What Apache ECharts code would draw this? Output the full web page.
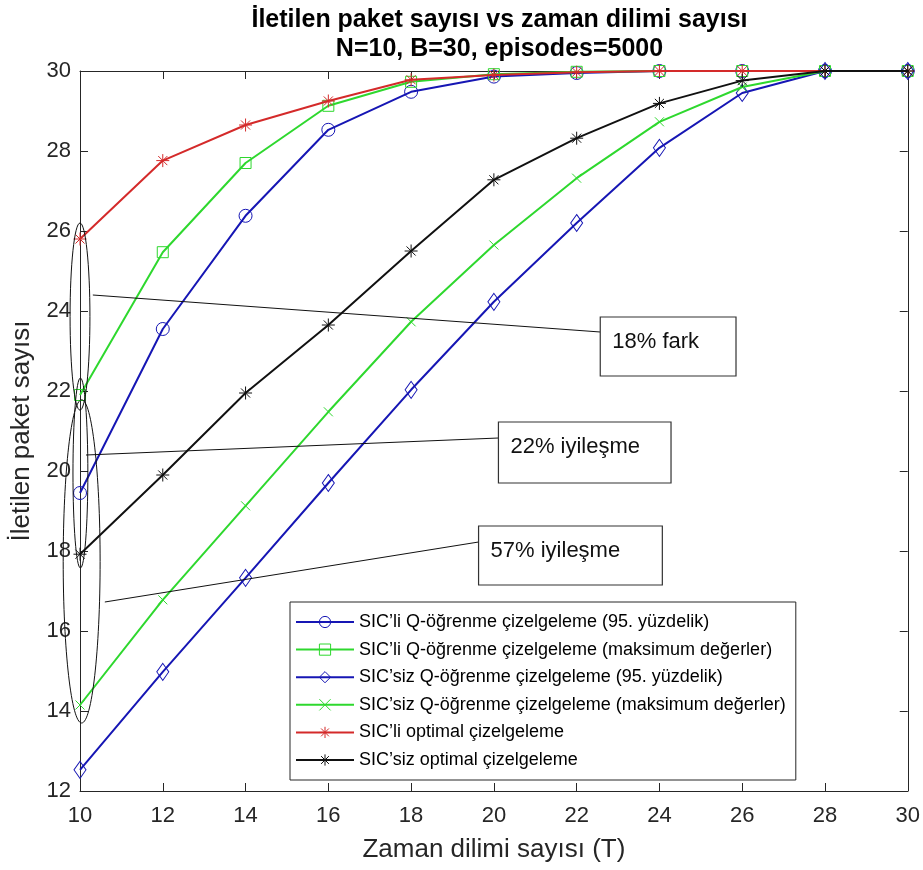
<!DOCTYPE html>
<html>
<head>
<meta charset="utf-8">
<script src="https://cdn.jsdelivr.net/npm/echarts@6/dist/echarts.min.js"></script>
<style>
html,body{margin:0;padding:0;background:#fff;}
#chart{width:923px;height:870px;}
</style>
</head>
<body>
<div id="chart"></div>
<script>
// ---- data ----
const T = [10, 12, 14, 16, 18, 20, 22, 24, 26, 28, 30];
const seriesNames = [
  "SIC’li Q-öğrenme çizelgeleme (95. yüzdelik)",
  "SIC’li Q-öğrenme çizelgeleme (maksimum değerler)",
  "SIC’siz Q-öğrenme çizelgeleme (95. yüzdelik)",
  "SIC’siz Q-öğrenme çizelgeleme (maksimum değerler)",
  "SIC’li optimal çizelgeleme",
  "SIC’siz optimal çizelgeleme"
];
const sicQ95      = [19.45, 23.55, 26.38, 28.53, 29.48, 29.86, 29.95, 30, 30, 30, 30];
const sicQmax     = [21.9, 25.47, 27.70, 29.13, 29.73, 29.92, 29.98, 30, 30, 30, 30];
const sicsizQ95   = [12.53, 14.98, 17.33, 19.70, 22.03, 24.23, 26.20, 28.08, 29.45, 30, 30];
const sicsizQmax  = [14.15, 16.78, 19.13, 21.48, 23.73, 25.65, 27.32, 28.73, 29.60, 30, 30];
const sicOpt      = [25.80, 27.76, 28.65, 29.25, 29.78, 29.90, 29.97, 30, 30, 30, 30];
const sicsizOpt   = [17.92, 19.90, 21.95, 23.65, 25.50, 27.28, 28.32, 29.19, 29.76, 30, 30];
const allValues = [sicQ95, sicQmax, sicsizQ95, sicsizQmax, sicOpt, sicsizOpt];
const yTicks = [12, 14, 16, 18, 20, 22, 24, 26, 28, 30];
const annoTexts = ["18% fark", "22% iyileşme", "57% iyileşme"];

// ---- styles ----
const FONT = "'Liberation Sans', Arial, Helvetica, sans-serif";
const AX = '#262626';
const BLUE = '#1616b4', GREEN = '#2ed82e', RED = '#d42a2a', BLACK = '#111111';
const XMARK = 'path://M0,0L10,10M10,0L0,10';
const STAR = 'path://M5,0L5,10M0,5L10,5M1.5,1.5L8.5,8.5M8.5,1.5L1.5,8.5';
const styles = [
  {color: BLUE,  symbol: 'circle',  size: 13},
  {color: GREEN, symbol: 'rect',    size: 11},
  {color: BLUE,  symbol: 'diamond', size: [12, 17]},
  {color: GREEN, symbol: XMARK,     size: 9},
  {color: RED,   symbol: STAR,      size: 13},
  {color: BLACK, symbol: STAR,      size: 13}
];

const chart = echarts.init(document.getElementById('chart'), null, {renderer: 'canvas'});

const series = seriesNames.map((name, k) => ({
  name: name,
  type: 'line',
  data: T.map((t, i) => [t, allValues[k][i]]),
  symbol: styles[k].symbol,
  symbolSize: styles[k].size,
  showAllSymbol: true,
  lineStyle: {color: styles[k].color, width: 2},
  itemStyle: {color: 'rgba(0,0,0,0)', borderColor: styles[k].color, borderWidth: 1},
  emphasis: {disabled: true},
  z: 2 + k
}));

const axisCommon = {
  type: 'value',
  axisLine: {show: true, onZero: false, lineStyle: {color: AX, width: 1}},
  axisTick: {show: true, inside: true, length: 8, lineStyle: {color: AX}},
  splitLine: {show: false}
};

chart.setOption({
  animation: false,
  backgroundColor: '#fff',
  title: {
    text: 'İletilen paket sayısı vs zaman dilimi sayısı\nN=10, B=30, episodes=5000',
    left: 494.5, top: 1, textAlign: 'center',
    textStyle: {fontFamily: FONT, fontSize: 25, fontWeight: 'bold', color: '#000', lineHeight: 29}
  },
  grid: {left: 80, right: 14, top: 71, bottom: 79, containLabel: false},
  xAxis: [
    Object.assign({}, axisCommon, {
      min: 10, max: 30, interval: 2, position: 'bottom',
      name: 'Zaman dilimi sayısı (T)', nameLocation: 'middle', nameGap: 46,
      nameTextStyle: {fontFamily: FONT, fontSize: 26, color: AX},
      axisLabel: {fontFamily: FONT, fontSize: 22, color: AX, margin: 14}
    }),
    Object.assign({}, axisCommon, {
      min: 10, max: 30, interval: 2, position: 'top', axisLabel: {show: false}
    })
  ],
  yAxis: [
    Object.assign({}, axisCommon, {
      min: yTicks[0], max: yTicks[yTicks.length - 1], interval: 2, position: 'left',
      name: 'İletilen paket sayısı', nameLocation: 'middle', nameGap: 45,
      nameTextStyle: {fontFamily: FONT, fontSize: 26, color: AX},
      axisLabel: {fontFamily: FONT, fontSize: 22, color: AX, margin: 9}
    }),
    Object.assign({}, axisCommon, {
      min: yTicks[0], max: yTicks[yTicks.length - 1], interval: 2, position: 'right',
      axisLabel: {show: false}
    })
  ],
  legend: {
    orient: 'vertical',
    left: 290, top: 602,
    padding: [11, 10, 11, 5],
    itemGap: 9.6,
    itemWidth: 58, itemHeight: 14,
    backgroundColor: '#fff',
    borderColor: AX, borderWidth: 1, borderRadius: 0,
    itemStyle: {color: 'rgba(0,0,0,0)', borderWidth: 1},
    textStyle: {fontFamily: FONT, fontSize: 18, color: '#000'},
    selectedMode: false,
    data: seriesNames
  },
  series: series
});

// ---- annotations (positions given in data units, converted through the grid) ----
const ellipses = [
  {cx: 10.0,  cy: 23.86, rx: 0.24,  ry: 2.34},
  {cx: 10.01, cy: 19.95, rx: 0.18,  ry: 2.375},
  {cx: 10.04, cy: 17.74, rx: 0.446, ry: 4.04}
];
const boxes = [
  {x0: 22.57, y0: 23.85, x1: 25.85, y1: 22.375, from: [10.31, 24.40],  to: [22.57, 23.475]},
  {x0: 20.11, y0: 21.225, x1: 24.28, y1: 19.70, from: [10.145, 20.40], to: [20.11, 20.825]},
  {x0: 19.63, y0: 18.625, x1: 24.07, y1: 17.15, from: [10.60, 16.725], to: [19.63, 18.225]}
];
const px = (p) => chart.convertToPixel({gridIndex: 0}, p);
const graphics = [];
ellipses.forEach(e => {
  const c = px([e.cx, e.cy]);
  const r = px([e.cx + e.rx, e.cy + e.ry]);
  graphics.push({
    type: 'ellipse', silent: true, z: 20,
    shape: {cx: c[0], cy: c[1], rx: Math.abs(r[0] - c[0]), ry: Math.abs(r[1] - c[1])},
    style: {fill: 'none', stroke: '#111', lineWidth: 1}
  });
});
boxes.forEach((b, i) => {
  const a = px(b.from), d = px(b.to);
  graphics.push({
    type: 'line', silent: true, z: 20,
    shape: {x1: a[0], y1: a[1], x2: d[0], y2: d[1]},
    style: {stroke: '#111', lineWidth: 1}
  });
  const p0 = px([b.x0, b.y0]), p1 = px([b.x1, b.y1]);
  graphics.push({
    type: 'rect', silent: true, z: 21,
    shape: {x: p0[0], y: p0[1], width: p1[0] - p0[0], height: p1[1] - p0[1]},
    style: {fill: '#fff', stroke: '#333', lineWidth: 1.2}
  });
  graphics.push({
    type: 'text', silent: true, z: 22,
    x: p0[0] + 12, y: p0[1] + 25,
    style: {text: annoTexts[i], fontFamily: FONT, fontSize: 22, fill: '#111',
            textAlign: 'left', textVerticalAlign: 'middle'}
  });
});
chart.setOption({graphic: graphics});
</script>
</body>
</html>
